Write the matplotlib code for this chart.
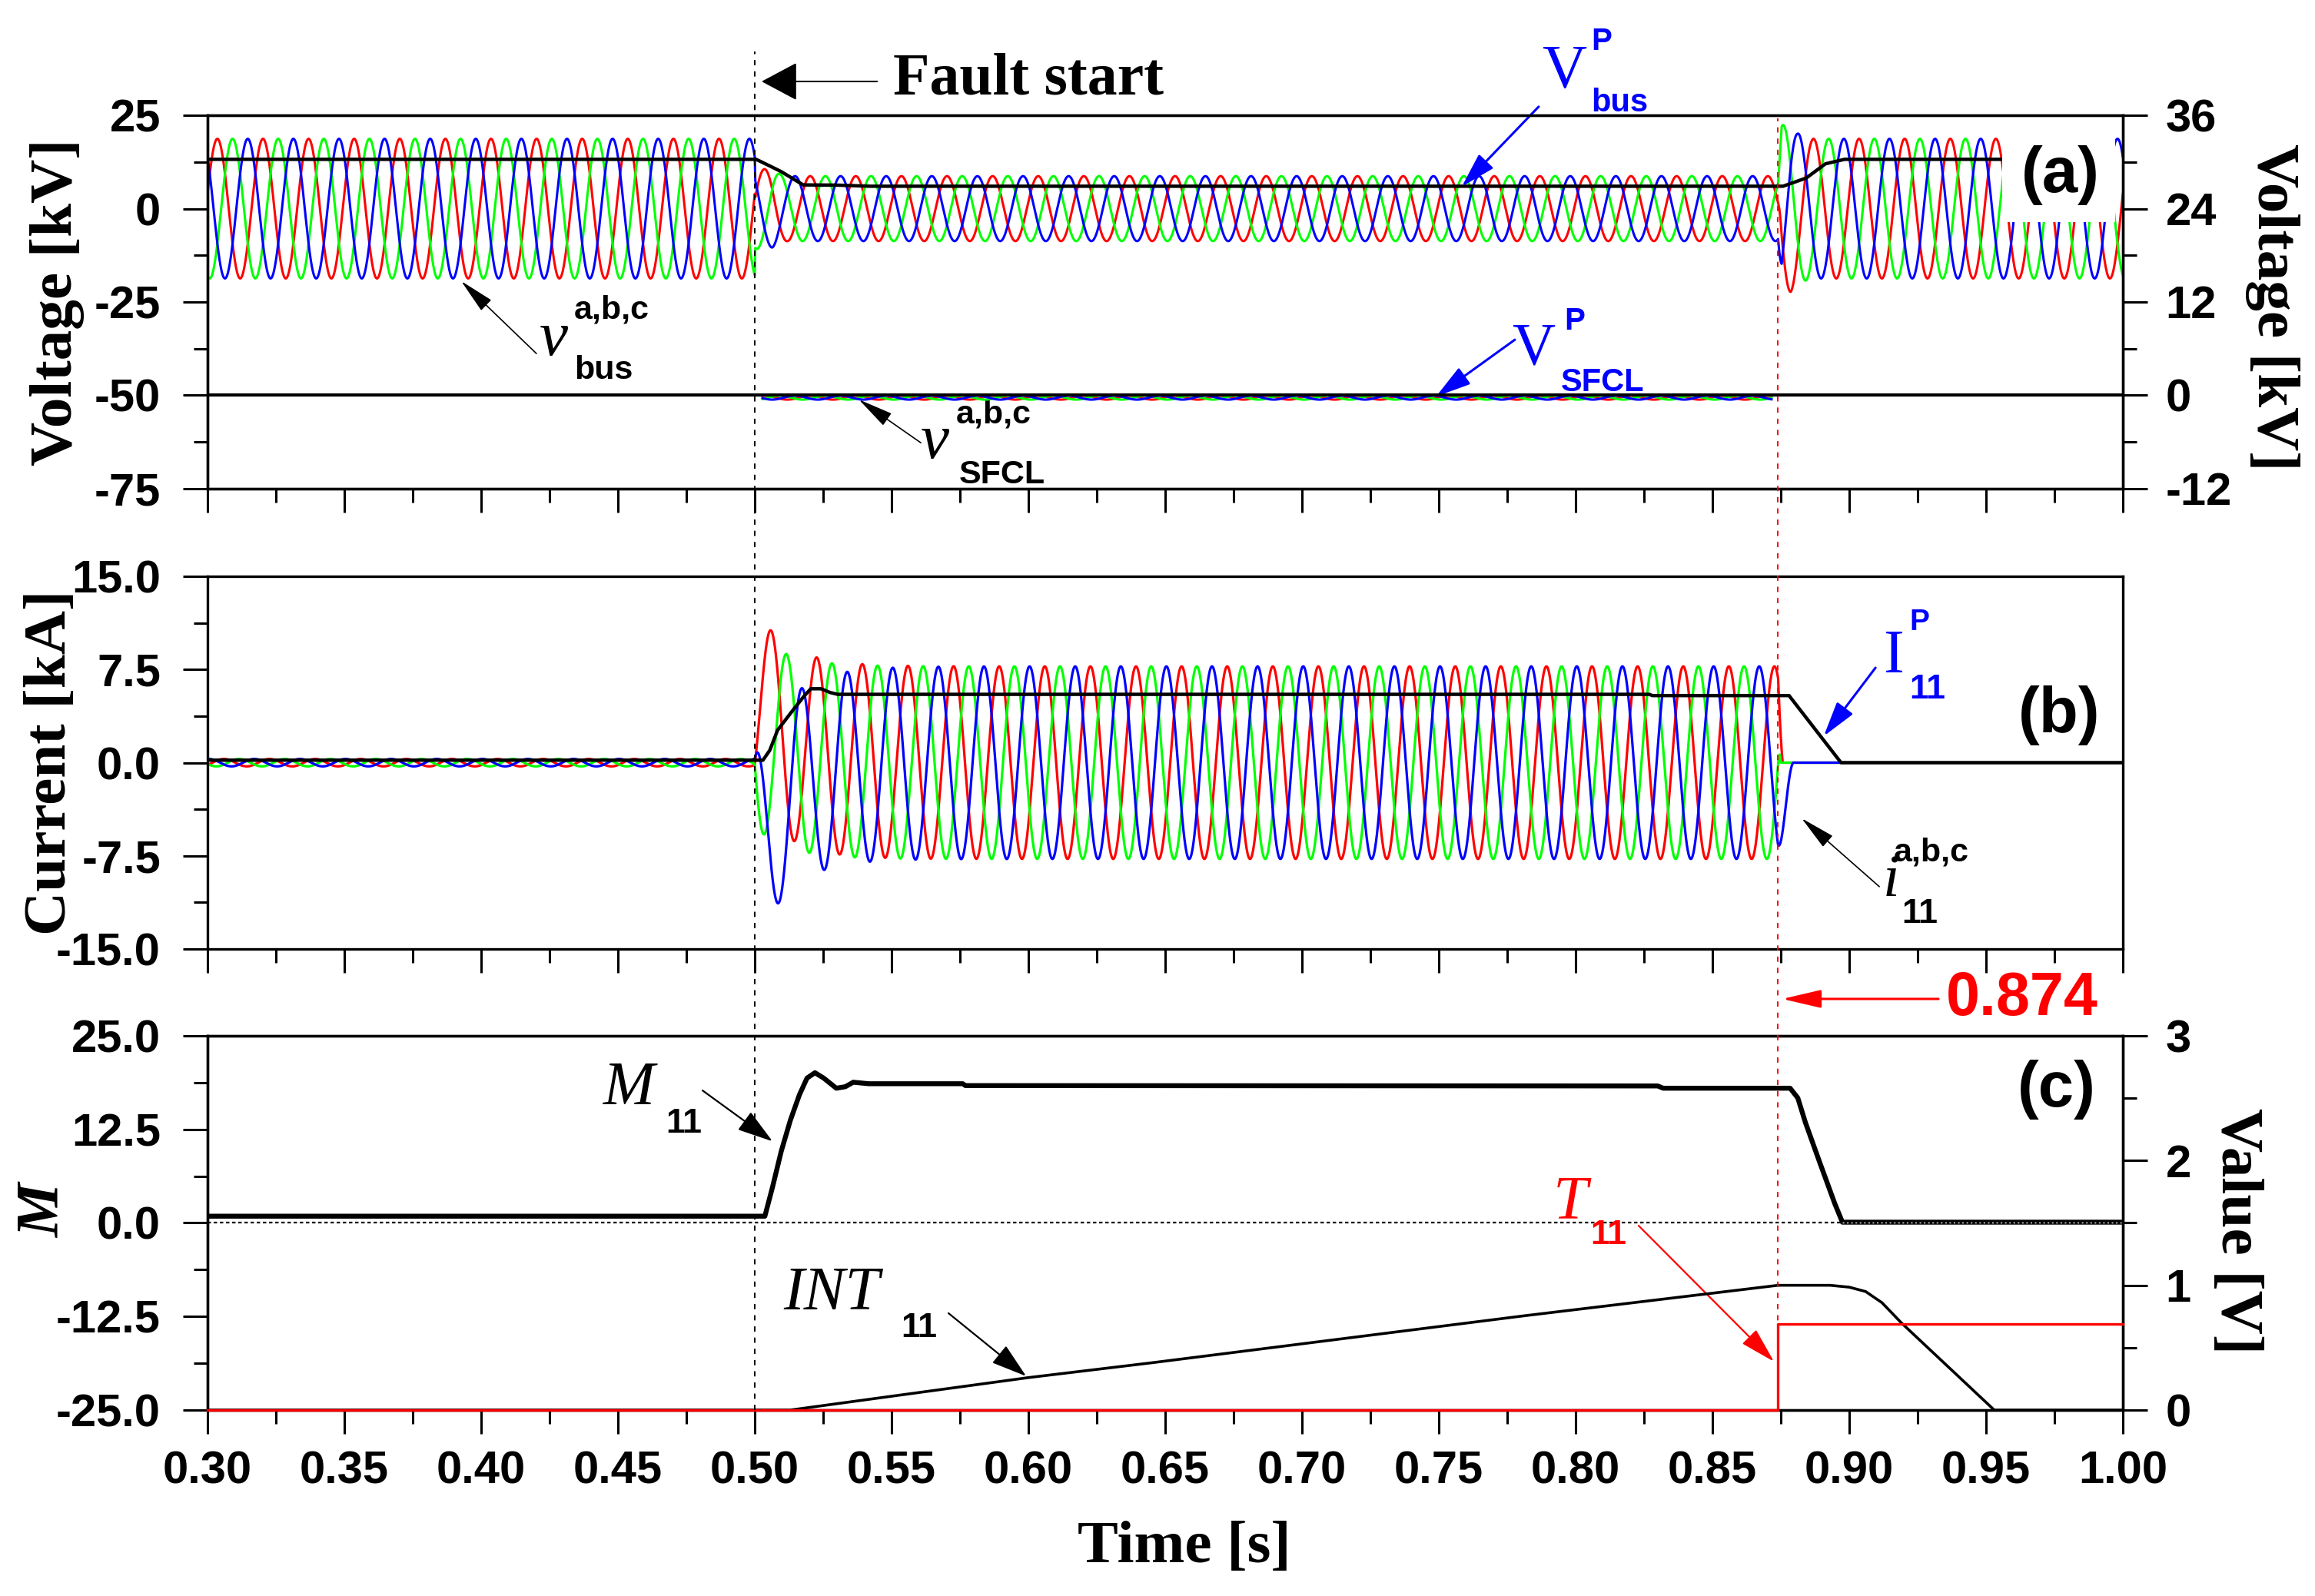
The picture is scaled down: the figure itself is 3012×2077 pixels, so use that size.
import numpy as np
import matplotlib
matplotlib.use("Agg")
import matplotlib.pyplot as plt
import matplotlib.transforms as mtransforms
from matplotlib.lines import Line2D
from matplotlib.patches import Rectangle
from matplotlib.ticker import FixedLocator, FormatStrFormatter

## Data

f_grid = 60.0        # Hz
t_fault = 0.500      # fault start [s]
t_trip = 0.874       # trip instant [s]

# (a) bus voltage, peak envelope [kV] and time of a phase-a peak
v_env_t = [0.300, 0.5000, 0.5002, 0.5065, 0.5093, 0.5120, 0.8740, 0.8753, 0.8786, 0.8810, 0.8860, 1.000]
v_env_a = [18.7, 18.7, 10.8, 10.4, 9.2, 8.7, 8.7, 22.4, 22.3, 20.2, 18.7, 18.7]
v_peak_a = 0.5036

# V^P_bus [kV]
vp_bus_t = [0.300, 0.5005, 0.5050, 0.5097, 0.5143, 0.5177, 0.5300, 0.5420, 0.8758, 0.8843, 0.8913, 0.8983, 0.9559]
vp_bus_v = [13.2, 13.2, 11.6, 9.9, 7.85, 6.35, 6.3, 6.0, 6.0, 8.2, 12.0, 13.2, 13.2]

# SFCL voltage (right axis, kV)
sfcl_on = [0.5028, 0.8716]
sfcl_amp = 0.25
sfcl_offset = -0.3
vp_sfcl_t = [0.300, 1.000]
vp_sfcl_v = [0.0, 0.0]

# (b) line current [kA]
i_pre_amp = 0.3
i_flt_amp = 7.75
i_peak_a = 0.5060
i_dc_tau = 0.012
i_cut = [0.8757, 0.8750, 0.8798]     # phases a, b, c

ip_t = [0.300, 0.503, 0.5055, 0.5083, 0.5135, 0.518, 0.5205, 0.5242, 0.5275, 0.5303, 0.827, 0.828, 0.878, 0.897, 1.000]
ip_v = [0.2, 0.2, 1.0, 2.6, 4.1, 5.35, 5.95, 5.95, 5.65, 5.5, 5.5, 5.4, 5.4, 0.0, 0.0]

# (c) M11 (left axis), INT11 and T11 (right axis, V)
m_t = [0.300, 0.5037, 0.5065, 0.5097, 0.5130, 0.5163, 0.5191, 0.5220, 0.5252, 0.5298, 0.5331, 0.5360,
       0.5416, 0.5760, 0.5770, 0.830, 0.832, 0.8784, 0.8812, 0.8840, 0.8893, 0.8947, 0.8975, 1.000]
m_v = [0.9, 0.9, 4.8, 9.6, 13.7, 17.1, 19.35, 20.07, 19.35, 18.0, 18.2, 18.8,
       18.6, 18.6, 18.35, 18.3, 18.0, 18.0, 16.7, 13.4, 8.0, 2.6, 0.1, 0.1]

int_t = [0.300, 0.513, 0.600, 0.6455, 0.781, 0.8486, 0.874, 0.893, 0.900, 0.906, 0.912, 0.919, 0.953, 1.000]
int_v = [0.0, 0.0, 0.26, 0.38, 0.755, 0.933, 1.0, 1.0, 0.985, 0.95, 0.86, 0.70, 0.0, 0.0]

t11_t = [0.300, 0.874, 0.874, 1.000]
t11_v = [0.0, 0.0, 0.69, 0.69]

x_ticks = [0.30, 0.35, 0.40, 0.45, 0.50, 0.55, 0.60, 0.65, 0.70, 0.75, 0.80, 0.85, 0.90, 0.95, 1.00]

## Waveforms

w = 2 * np.pi * f_grid
t = np.linspace(0.3, 1.0, 28001)
cols = ['#ff0000', '#00ff00', '#0000ff']

v_amp = np.interp(t, v_env_t, v_env_a)
v_abc = [v_amp * np.cos(w * (t - v_peak_a) - k * 2 * np.pi / 3) for k in range(3)]

on = (t >= sfcl_on[0]) & (t <= sfcl_on[1])
v_sfcl = [np.where(on, sfcl_offset + sfcl_amp * np.cos(w * (t - v_peak_a) - k * 2 * np.pi / 3), np.nan)
          for k in range(3)]

i_abc = []
for k in range(3):
    ph = -k * 2 * np.pi / 3
    env = np.interp(t, [0.3, t_fault, t_fault, t_trip, i_cut[k], 1.0],
                    [i_pre_amp, i_pre_amp, i_flt_amp, i_flt_amp, 0, 0])
    ac = env * np.cos(w * (t - i_peak_a) + ph)
    d0 = (i_pre_amp - i_flt_amp) * np.cos(w * (t_fault - i_peak_a) + ph)
    dc = np.where(t >= t_fault, d0 * np.exp(-(t - t_fault) / i_dc_tau), 0)
    i_abc.append(ac + dc)

## Figure

plt.rcParams['font.family'] = 'Liberation Sans'
plt.rcParams['font.weight'] = 'bold'
plt.rcParams['axes.unicode_minus'] = False

fig = plt.figure(figsize=(30.12, 20.77), dpi=100)
axa = fig.add_axes([0.08964, 0.69379, 0.82736, 0.23399])
axb = fig.add_axes([0.08964, 0.40539, 0.82736, 0.23351])
axc = fig.add_axes([0.08964, 0.11652, 0.82736, 0.23447])
axa2 = axa.twinx()
axc2 = axc.twinx()

serif = 'Liberation Serif'
sans = 'Liberation Sans'


def setup(ax, yt, ymin, fmt, ylim, side='left'):
    ax.set_ylim(*ylim)
    ax.yaxis.set_major_locator(FixedLocator(yt))
    ax.yaxis.set_minor_locator(FixedLocator(ymin))
    ax.yaxis.set_major_formatter(FormatStrFormatter(fmt))
    pad = 21 if side == 'left' else 17
    ax.tick_params(axis='y', which='major', direction='out', length=23, width=2.2, pad=pad, labelsize=43)
    ax.tick_params(axis='y', which='minor', direction='out', length=13, width=2.2)
    for s in ax.spines.values():
        s.set_linewidth(2.4)


for ax in (axa, axb, axc):
    ax.set_xlim(0.3, 1.0)
    ax.xaxis.set_major_locator(FixedLocator(x_ticks))
    ax.xaxis.set_minor_locator(FixedLocator([x + 0.025 for x in x_ticks[:-1]]))
    ax.xaxis.set_major_formatter(FormatStrFormatter('%.2f'))
    ax.tick_params(axis='x', which='major', direction='out', length=22, width=2.2, pad=16, labelsize=43)
    ax.tick_params(axis='x', which='minor', direction='out', length=13, width=2.2)
axa.tick_params(labelbottom=False)
axb.tick_params(labelbottom=False)

setup(axa, [-75, -50, -25, 0, 25], [-62.5, -37.5, -12.5, 12.5], '%d', (-75, 25))
setup(axa2, [-12, 0, 12, 24, 36], [-6, 6, 18, 30], '%d', (-12, 36), 'right')
setup(axb, [-15, -7.5, 0, 7.5, 15], [-11.25, -3.75, 3.75, 11.25], '%.1f', (-15, 15))
setup(axc, [-25, -12.5, 0, 12.5, 25], [-18.75, -6.25, 6.25, 18.75], '%.1f', (-25, 25))
setup(axc2, [0, 1, 2, 3], [0.5, 1.5, 2.5], '%d', (0, 3), 'right')

# (a)
for k in range(3):
    axa.plot(t, v_abc[k], color=cols[k], lw=2.2, zorder=2)
axa.plot(vp_bus_t, vp_bus_v, color='k', lw=3.2, zorder=3)
for k in range(3):
    axa2.plot(t, v_sfcl[k], color=cols[k], lw=2.2, zorder=2)
axa2.plot(vp_sfcl_t, vp_sfcl_v, color='k', lw=3.0, zorder=3)
axa.add_patch(Rectangle((0.9559, -3.5), 0.0413, 27, facecolor='white', edgecolor='none', zorder=5))

# (b)
for k in range(3):
    axb.plot(t, i_abc[k], color=cols[k], lw=2.3, zorder=2)
axb.plot(ip_t, ip_v, color='k', lw=3.2, zorder=3)

# (c)
axc.axhline(0, color='k', lw=1.6, ls=(0, (2, 1.6)), zorder=2)
axc.plot(m_t, m_v, color='k', lw=4.6, zorder=3)
axc.plot([0.8975, 1.0], [0.1, 0.1], color='white', lw=1.0, ls=(0, (1.5, 2.5)), zorder=4)
axc2.plot(int_t, int_v, color='k', lw=2.6, zorder=3)
axc2.plot(t11_t, t11_v, color='#ff0000', lw=2.4, zorder=4, clip_on=False)

# vertical markers
trans = mtransforms.blended_transform_factory(axc.transData, fig.transFigure)
fig.add_artist(Line2D([t_fault, t_fault], [0.1165, 0.9677], transform=trans,
                      color='k', lw=1.4, ls=(0, (3.5, 4))))
fig.add_artist(Line2D([t_trip, t_trip], [0.1165, 0.9259], transform=trans,
                      color='#ff0000', lw=1.4, ls=(0, (3.5, 4))))


def put(ax, x, y, s, size, color='k', family=serif, style='normal', weight='normal'):
    ax.text(x, y, s, fontsize=size, color=color, family=family, style=style, weight=weight,
            ha='left', va='baseline', clip_on=False, zorder=7)


def arrow(ax, tip, tail, color, lw, hl, hw, ms=20):
    ax.annotate('', xy=tip, xytext=tail, annotation_clip=False, zorder=7,
                arrowprops=dict(arrowstyle='-|>,head_length=%g,head_width=%g' % (hl, hw),
                                color=color, lw=lw, mutation_scale=ms, shrinkA=0, shrinkB=0))


# annotations (a)
arrow(axa, (0.5025, 34.05), (0.5447, 34.05), 'k', 1.5, 1.5, 0.8)
put(axa, 0.5506, 30.56, 'Fault start', 56, weight='bold')

put(axa, 0.4213, -39.2, 'v', 60, style='italic')
put(axa, 0.4340, -29.5, 'a,b,c', 31, family=sans, weight='bold')
put(axa, 0.4340, -45.6, 'bus', 31, family=sans, weight='bold')
arrow(axa, (0.3927, -19.4), (0.4202, -38.8), 'k', 1.2, 1.45, 0.3)

put(axa, 0.7876, 32.4, 'V', 58, color='#0000ff')
put(axa, 0.8056, 42.5, 'P', 29, color='#0000ff', family=sans, weight='bold')
put(axa, 0.8056, 26.0, 'bus', 30, color='#0000ff', family=sans, weight='bold')
arrow(axa, (0.7584, 5.9), (0.7865, 27.3), '#0000ff', 2.2, 1.4, 0.4)

put(axa, 0.7767, -41.5, 'V', 56, color='#0000ff')
put(axa, 0.7958, -32.4, 'P', 29, color='#0000ff', family=sans, weight='bold')
put(axa, 0.7947, -48.9, 'SFCL', 30, color='#0000ff', family=sans, weight='bold')
arrow(axa, (0.749, -50.3), (0.7778, -35.1), '#0000ff', 2.2, 1.4, 0.4)

put(axa, 0.5607, -66.8, 'v', 60, style='italic')
put(axa, 0.5736, -57.5, 'a,b,c', 31, family=sans, weight='bold')
put(axa, 0.5747, -73.6, 'SFCL', 31, family=sans, weight='bold')
arrow(axa, (0.538, -51.1), (0.5607, -62.7), 'k', 1.2, 1.45, 0.3)

axa.text(0.9773, 9.0, '(a)', ha='center', va='center', fontsize=60, weight='bold', family=sans, zorder=7)

# annotations (b)
put(axb, 0.9124, 7.27, 'I', 58, color='#0000ff')
put(axb, 0.9219, 10.67, 'P', 28, color='#0000ff', family=sans, weight='bold')
put(axb, 0.9219, 5.17, '11', 32, color='#0000ff', family=sans, weight='bold')
arrow(axb, (0.8907, 2.14), (0.9096, 7.64), '#0000ff', 2.2, 1.4, 0.4)

put(axb, 0.9124, -10.73, 'i', 56, style='italic')
put(axb, 0.9163, -7.94, 'a,b,c', 31, family=sans, weight='bold')
put(axb, 0.9191, -12.9, '11', 32, family=sans, weight='bold')
arrow(axb, (0.8826, -4.48), (0.911, -9.98), 'k', 1.2, 1.45, 0.3)

axb.text(0.9767, 3.8, '(b)', ha='center', va='center', fontsize=60, weight='bold', family=sans, zorder=7)

# annotations (c)
put(axc, 0.9354, 27.77, '0.874', 57, color='#ff0000', family=sans, weight='bold')
arrow(axc, (0.8755, 29.93), (0.9326, 29.93), '#ff0000', 2.2, 1.55, 0.36)

put(axc, 0.4447, 15.86, 'M', 58, style='italic')
put(axc, 0.4674, 12.06, '11', 32, family=sans, weight='bold')
arrow(axc, (0.5065, 10.9), (0.4809, 17.7), 'k', 1.6, 1.45, 0.45)

put(axc, 0.5104, -11.55, 'INT', 58, style='italic')
put(axc, 0.5534, -15.25, '11', 32, family=sans, weight='bold')
arrow(axc, (0.5992, -20.48), (0.5708, -12.06), 'k', 1.6, 1.45, 0.45)

put(axc, 0.7919, 0.67, 'T', 58, color='#ff0000', style='italic')
put(axc, 0.8053, -2.82, '11', 32, color='#ff0000', family=sans, weight='bold')
arrow(axc, (0.8725, -18.53), (0.823, -0.36), '#ff0000', 1.6, 1.45, 0.4)

axc.text(0.9758, 17.8, '(c)', ha='center', va='center', fontsize=60, weight='bold', family=sans, zorder=7)

# axis titles
fig.text(0.0249, 0.8108, 'Voltage [kV]', rotation=90, ha='center', va='center',
         fontsize=57, family=serif, weight='bold')
fig.text(0.9817, 0.8074, 'Voltage [kV]', rotation=270, ha='center', va='center',
         fontsize=57, family=serif, weight='bold')
fig.text(0.0222, 0.5224, 'Current [kA]', rotation=90, ha='center', va='center',
         fontsize=57, family=serif, weight='bold')
fig.text(0.0189, 0.2412, 'M', rotation=90, ha='center', va='center',
         fontsize=57, family=serif, weight='bold', style='italic')
fig.text(0.9661, 0.2287, 'Value [V]', rotation=270, ha='center', va='center',
         fontsize=57, family=serif, weight='bold')
fig.text(0.5117, 0.0299, 'Time [s]', ha='center', va='center',
         fontsize=57, family=serif, weight='bold')

fig.savefig('out.png', dpi=100, facecolor='white')
